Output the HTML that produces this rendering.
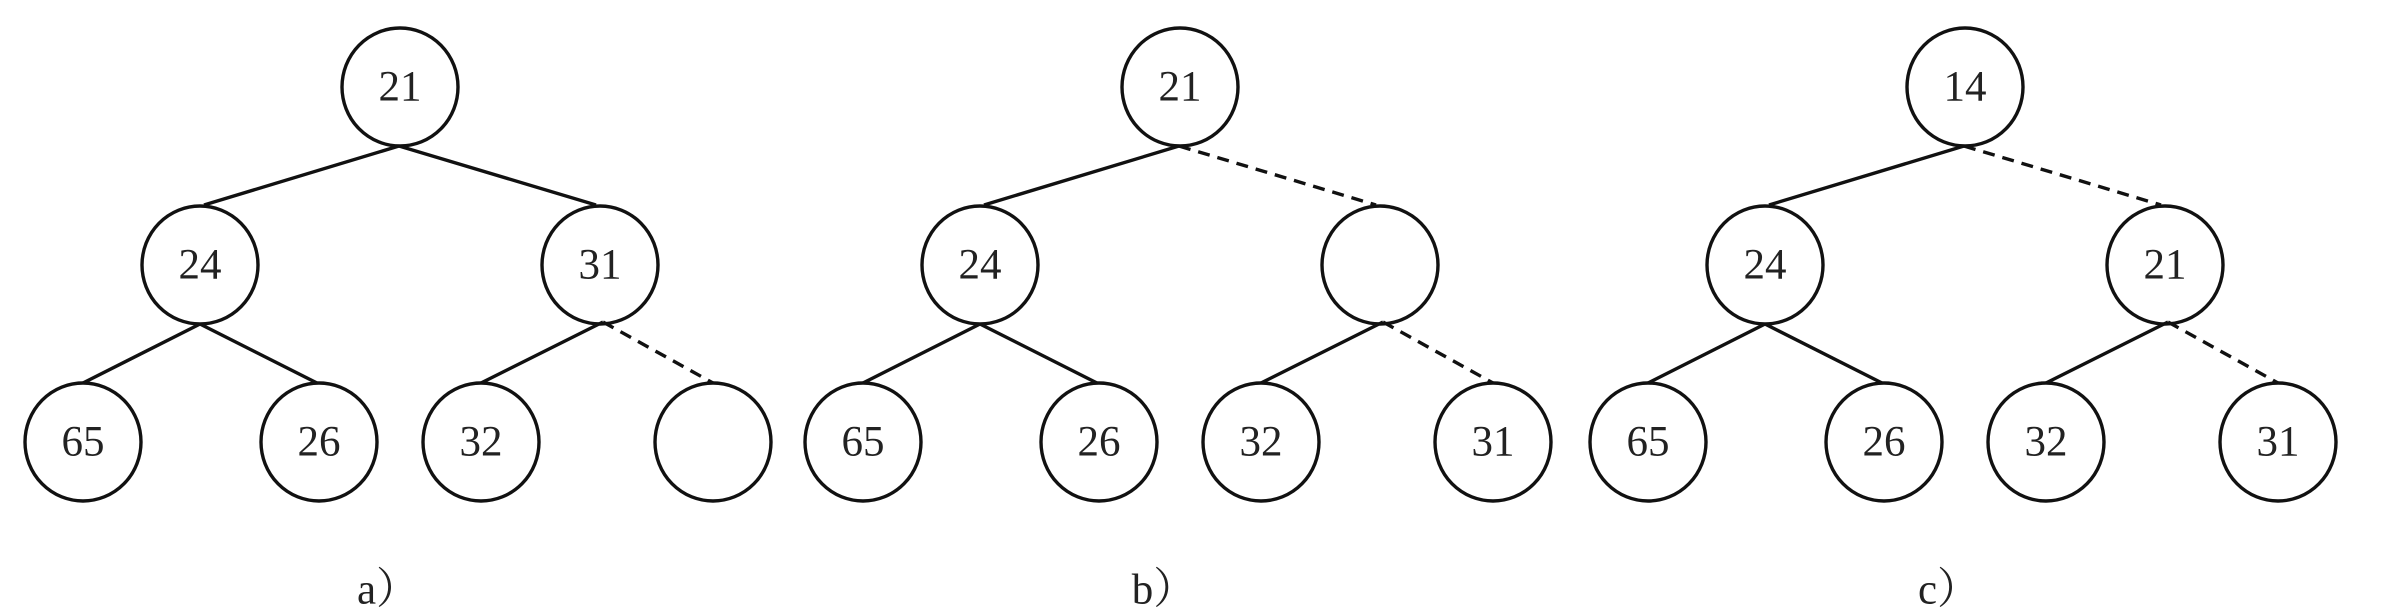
<!DOCTYPE html>
<html><head><meta charset="utf-8"><style>
html,body{margin:0;padding:0;background:#fff;}
svg{display:block}
text{font-family:"Liberation Serif","Noto Serif CJK SC",serif;font-size:43px;fill:#222;text-anchor:middle;dominant-baseline:central}
</style></head><body>
<svg width="2408" height="616" viewBox="0 0 2408 616" xmlns="http://www.w3.org/2000/svg">
<defs>
<g id="t" stroke="#111" stroke-width="3.4" fill="none">
<line x1="399" y1="146" x2="204" y2="205"/>
<line x1="200" y1="324" x2="83" y2="383"/>
<line x1="200" y1="324" x2="317" y2="383"/>
<line x1="603" y1="322" x2="481" y2="383"/>
<ellipse cx="400" cy="87" rx="58" ry="59"/>
<ellipse cx="200" cy="265" rx="58" ry="59"/>
<ellipse cx="600" cy="265" rx="58" ry="59"/>
<ellipse cx="83" cy="442" rx="58" ry="59"/>
<ellipse cx="319" cy="442" rx="58" ry="59"/>
<ellipse cx="481" cy="442" rx="58" ry="59"/>
<ellipse cx="713" cy="442" rx="58" ry="59"/>
<line x1="603" y1="322" x2="713" y2="383" stroke-dasharray="12,8"/>
</g>
</defs>
<!-- a -->
<use href="#t"/>
<line x1="399" y1="146" x2="596" y2="205" stroke="#111" stroke-width="3.4"/>
<text x="400" y="87">21</text><text x="200" y="265">24</text><text x="600" y="265">31</text>
<text x="83" y="442">65</text><text x="319" y="442">26</text><text x="481" y="442">32</text>
<text x="388" y="590">a）</text>
<!-- b -->
<g transform="translate(780,0)">
<use href="#t"/>
<line x1="399" y1="146" x2="596" y2="205" stroke="#111" stroke-width="3.4" stroke-dasharray="12,8"/>
<text x="400" y="87">21</text><text x="200" y="265">24</text>
<text x="83" y="442">65</text><text x="319" y="442">26</text><text x="481" y="442">32</text><text x="713" y="442">31</text>
<text x="384" y="590">b）</text>
</g>
<!-- c -->
<g transform="translate(1565,0)">
<use href="#t"/>
<line x1="399" y1="146" x2="596" y2="205" stroke="#111" stroke-width="3.4" stroke-dasharray="12,8"/>
<text x="400" y="87">14</text><text x="200" y="265">24</text><text x="600" y="265">21</text>
<text x="83" y="442">65</text><text x="319" y="442">26</text><text x="481" y="442">32</text><text x="713" y="442">31</text>
<text x="384" y="590">c）</text>
</g>
</svg>
</body></html>
